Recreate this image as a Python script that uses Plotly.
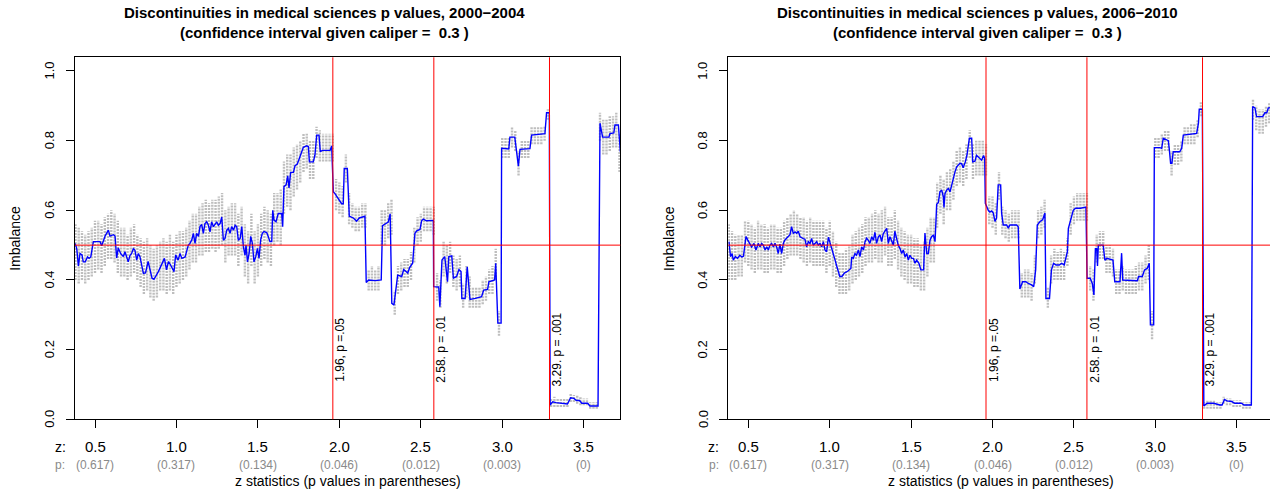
import numpy as np
import plotly.graph_objects as go

# ---------------------------------------------------------------- data
PERIODS = ["2000\u22122004", "2006\u22122010"]
CALIPER = 0.3

Z_TICKS = [0.5, 1.0, 1.5, 2.0, 2.5, 3.0, 3.5]
Z_TICK_TEXT = ["0.5", "1.0", "1.5", "2.0", "2.5", "3.0", "3.5"]
P_TICK_TEXT = ["(0.617)", "(0.317)", "(0.134)", "(0.046)", "(0.012)", "(0.003)", "(0)"]
Y_TICKS = [0.0, 0.2, 0.4, 0.6, 0.8, 1.0]
Y_TICK_TEXT = ["0.0", "0.2", "0.4", "0.6", "0.8", "1.0"]

THRESHOLDS = [1.96, 2.58, 3.29]
THRESHOLD_TEXT = ["1.96, p =.05", "2.58. p = .01", "3.29. p = .001"]
BALANCE = 0.5

# imbalance estimate (z, imbalance), 2000-2004
IMB_2000 = [
    (0.378, 0.505), (0.388, 0.49), (0.398, 0.44), (0.408, 0.476), (0.42, 0.472),
    (0.428, 0.452), (0.44, 0.452), (0.454, 0.466), (0.464, 0.462), (0.474, 0.466),
    (0.49, 0.51), (0.531, 0.51), (0.541, 0.498), (0.562, 0.526), (0.582, 0.543),
    (0.592, 0.526), (0.613, 0.53), (0.623, 0.526), (0.633, 0.463), (0.643, 0.492),
    (0.657, 0.476), (0.674, 0.467), (0.684, 0.481), (0.704, 0.452), (0.715, 0.471),
    (0.725, 0.476), (0.735, 0.49), (0.745, 0.486), (0.756, 0.457), (0.766, 0.476),
    (0.776, 0.467), (0.786, 0.443), (0.797, 0.419), (0.81, 0.42), (0.826, 0.453),
    (0.85, 0.405), (0.862, 0.402), (0.889, 0.424), (0.914, 0.448), (0.926, 0.462),
    (0.939, 0.429), (0.951, 0.453), (0.964, 0.443), (0.985, 0.424), (0.995, 0.472),
    (1.01, 0.457), (1.022, 0.476), (1.033, 0.462), (1.053, 0.466), (1.073, 0.50),
    (1.083, 0.505), (1.094, 0.515), (1.104, 0.534), (1.114, 0.505), (1.124, 0.534),
    (1.135, 0.525), (1.145, 0.554), (1.155, 0.559), (1.165, 0.534), (1.175, 0.562),
    (1.186, 0.567), (1.196, 0.557), (1.206, 0.538), (1.216, 0.567), (1.227, 0.553),
    (1.237, 0.562), (1.247, 0.567), (1.257, 0.557), (1.268, 0.562), (1.278, 0.581),
    (1.288, 0.514), (1.298, 0.519), (1.309, 0.543), (1.319, 0.548), (1.329, 0.534),
    (1.339, 0.553), (1.35, 0.543), (1.36, 0.557), (1.37, 0.553), (1.38, 0.514),
    (1.391, 0.519), (1.401, 0.553), (1.411, 0.495), (1.421, 0.471), (1.427, 0.50),
    (1.436, 0.452), (1.446, 0.476), (1.456, 0.525), (1.466, 0.505), (1.476, 0.452),
    (1.487, 0.467), (1.497, 0.491), (1.507, 0.462), (1.517, 0.515), (1.527, 0.534),
    (1.537, 0.539), (1.554, 0.536), (1.564, 0.524), (1.574, 0.51), (1.585, 0.51),
    (1.591, 0.60), (1.599, 0.572), (1.611, 0.567), (1.625, 0.591), (1.646, 0.591),
    (1.652, 0.553), (1.66, 0.668), (1.673, 0.673), (1.683, 0.699), (1.691, 0.664),
    (1.701, 0.709), (1.718, 0.709), (1.728, 0.728), (1.742, 0.733), (1.758, 0.753),
    (1.769, 0.763), (1.779, 0.781), (1.799, 0.785), (1.81, 0.783), (1.816, 0.739),
    (1.84, 0.739), (1.85, 0.758), (1.861, 0.816), (1.875, 0.816), (1.883, 0.768),
    (1.895, 0.772), (1.943, 0.772), (1.953, 0.785), (1.963, 0.653), (1.973, 0.648),
    (1.993, 0.634), (2.004, 0.625), (2.014, 0.619), (2.024, 0.619), (2.03, 0.72),
    (2.049, 0.72), (2.061, 0.583), (2.086, 0.578), (2.106, 0.569), (2.122, 0.578),
    (2.157, 0.583), (2.165, 0.393), (2.18, 0.40), (2.22, 0.398), (2.257, 0.40),
    (2.265, 0.556), (2.285, 0.562), (2.30, 0.566), (2.312, 0.59), (2.322, 0.333),
    (2.335, 0.328), (2.358, 0.414), (2.383, 0.41), (2.395, 0.43), (2.42, 0.42),
    (2.432, 0.436), (2.45, 0.448), (2.458, 0.486), (2.464, 0.534), (2.475, 0.541),
    (2.495, 0.545), (2.505, 0.57), (2.515, 0.575), (2.535, 0.57), (2.567, 0.57),
    (2.577, 0.571), (2.579, 0.381), (2.61, 0.38), (2.617, 0.323), (2.63, 0.457),
    (2.647, 0.467), (2.664, 0.395), (2.672, 0.467), (2.69, 0.469), (2.70, 0.405),
    (2.72, 0.41), (2.734, 0.43), (2.747, 0.424), (2.752, 0.347), (2.772, 0.347),
    (2.785, 0.438), (2.802, 0.344), (2.835, 0.347), (2.873, 0.352), (2.886, 0.371),
    (2.91, 0.373), (2.918, 0.395), (2.953, 0.40), (2.96, 0.448), (2.973, 0.276),
    (2.993, 0.276), (2.996, 0.778), (3.04, 0.776), (3.047, 0.81), (3.077, 0.81),
    (3.088, 0.775), (3.099, 0.727), (3.109, 0.775), (3.17, 0.777), (3.18, 0.816),
    (3.252, 0.82), (3.262, 0.82), (3.272, 0.88), (3.289, 0.88), (3.294, 0.041),
    (3.31, 0.05), (3.33, 0.048), (3.40, 0.044), (3.42, 0.062), (3.44, 0.06),
    (3.455, 0.054), (3.475, 0.054), (3.488, 0.046), (3.525, 0.046), (3.538, 0.038),
    (3.588, 0.038), (3.60, 0.85), (3.616, 0.81), (3.655, 0.81), (3.661, 0.82),
    (3.685, 0.822), (3.692, 0.845), (3.713, 0.845), (3.725, 0.768),
]

# imbalance estimate (z, imbalance), 2006-2010
IMB_2006 = [
    (0.381, 0.51), (0.391, 0.467), (0.40, 0.476), (0.408, 0.457), (0.42, 0.467),
    (0.434, 0.462), (0.448, 0.471), (0.46, 0.466), (0.47, 0.468), (0.486, 0.525),
    (0.496, 0.515), (0.506, 0.505), (0.52, 0.495), (0.535, 0.505), (0.547, 0.486),
    (0.561, 0.505), (0.572, 0.495), (0.582, 0.505), (0.592, 0.50), (0.603, 0.486),
    (0.613, 0.495), (0.623, 0.486), (0.633, 0.50), (0.643, 0.505), (0.654, 0.495),
    (0.664, 0.505), (0.674, 0.495), (0.684, 0.476), (0.694, 0.503), (0.705, 0.476),
    (0.715, 0.505), (0.725, 0.515), (0.735, 0.52), (0.746, 0.525), (0.756, 0.53),
    (0.766, 0.553), (0.776, 0.534), (0.787, 0.538), (0.797, 0.534), (0.807, 0.54),
    (0.818, 0.524), (0.838, 0.519), (0.848, 0.517), (0.858, 0.495), (0.869, 0.51),
    (0.879, 0.505), (0.889, 0.519), (0.899, 0.50), (0.91, 0.505), (0.92, 0.51),
    (0.93, 0.50), (0.94, 0.505), (0.951, 0.495), (0.961, 0.51), (0.971, 0.486),
    (0.981, 0.481), (0.992, 0.523), (1.002, 0.505), (1.012, 0.49), (1.022, 0.476),
    (1.033, 0.457), (1.043, 0.44), (1.05, 0.429), (1.062, 0.41), (1.075, 0.41),
    (1.09, 0.42), (1.11, 0.425), (1.13, 0.433), (1.135, 0.466), (1.145, 0.462),
    (1.155, 0.476), (1.165, 0.471), (1.176, 0.486), (1.186, 0.467), (1.196, 0.495),
    (1.207, 0.486), (1.217, 0.51), (1.227, 0.52), (1.237, 0.514), (1.247, 0.505),
    (1.258, 0.524), (1.268, 0.514), (1.278, 0.537), (1.288, 0.505), (1.299, 0.524),
    (1.309, 0.529), (1.319, 0.51), (1.329, 0.533), (1.35, 0.548), (1.36, 0.505),
    (1.37, 0.524), (1.38, 0.51), (1.391, 0.50), (1.40, 0.54), (1.411, 0.514),
    (1.421, 0.50), (1.432, 0.49), (1.442, 0.476), (1.452, 0.486), (1.463, 0.466),
    (1.473, 0.476), (1.483, 0.457), (1.493, 0.471), (1.504, 0.462), (1.514, 0.462),
    (1.524, 0.448), (1.534, 0.457), (1.548, 0.448), (1.56, 0.429), (1.577, 0.429),
    (1.585, 0.535), (1.596, 0.476), (1.606, 0.476), (1.616, 0.514), (1.626, 0.524),
    (1.637, 0.529), (1.647, 0.51), (1.657, 0.617), (1.667, 0.622), (1.677, 0.653),
    (1.688, 0.658), (1.698, 0.639), (1.702, 0.608), (1.708, 0.648), (1.718, 0.658),
    (1.729, 0.663), (1.739, 0.653), (1.749, 0.673), (1.759, 0.687), (1.77, 0.711),
    (1.78, 0.725), (1.79, 0.73), (1.80, 0.735), (1.81, 0.734), (1.82, 0.722),
    (1.833, 0.739), (1.843, 0.758), (1.858, 0.807), (1.872, 0.807), (1.878, 0.739),
    (1.892, 0.741), (1.902, 0.758), (1.912, 0.753), (1.923, 0.748), (1.933, 0.744),
    (1.945, 0.757), (1.952, 0.75), (1.956, 0.62), (1.964, 0.61), (1.974, 0.60),
    (1.984, 0.595), (1.995, 0.598), (2.005, 0.592), (2.015, 0.568), (2.025, 0.578),
    (2.035, 0.673), (2.05, 0.673), (2.056, 0.592), (2.066, 0.558), (2.087, 0.558),
    (2.097, 0.549), (2.107, 0.558), (2.148, 0.558), (2.158, 0.553), (2.168, 0.374),
    (2.185, 0.395), (2.205, 0.395), (2.22, 0.39), (2.24, 0.386), (2.253, 0.381),
    (2.265, 0.429), (2.275, 0.558), (2.292, 0.568), (2.308, 0.573), (2.322, 0.592),
    (2.328, 0.347), (2.35, 0.347), (2.362, 0.429), (2.375, 0.448), (2.39, 0.443),
    (2.41, 0.443), (2.425, 0.448), (2.44, 0.443), (2.46, 0.481), (2.466, 0.548),
    (2.476, 0.568), (2.486, 0.585), (2.496, 0.60), (2.51, 0.606), (2.54, 0.606),
    (2.574, 0.609), (2.581, 0.405), (2.60, 0.405), (2.613, 0.39), (2.623, 0.357),
    (2.632, 0.49), (2.64, 0.49), (2.645, 0.44), (2.65, 0.50), (2.68, 0.50),
    (2.69, 0.457), (2.703, 0.462), (2.74, 0.457), (2.751, 0.395), (2.783, 0.395),
    (2.793, 0.477), (2.80, 0.40), (2.84, 0.40), (2.861, 0.398), (2.89, 0.398),
    (2.897, 0.41), (2.92, 0.41), (2.934, 0.429), (2.95, 0.433), (2.963, 0.448),
    (2.97, 0.271), (2.99, 0.271), (2.994, 0.78), (3.028, 0.78), (3.039, 0.778),
    (3.049, 0.807), (3.08, 0.80), (3.086, 0.775), (3.094, 0.735), (3.102, 0.735),
    (3.11, 0.768), (3.15, 0.768), (3.162, 0.778), (3.172, 0.816), (3.20, 0.818),
    (3.254, 0.821), (3.265, 0.85), (3.27, 0.89), (3.289, 0.89), (3.298, 0.038),
    (3.318, 0.046), (3.36, 0.046), (3.396, 0.041), (3.41, 0.041), (3.425, 0.057),
    (3.44, 0.053), (3.47, 0.051), (3.488, 0.046), (3.53, 0.046), (3.545, 0.041),
    (3.59, 0.041), (3.598, 0.898), (3.612, 0.894), (3.622, 0.869), (3.66, 0.869),
    (3.673, 0.88), (3.685, 0.88), (3.694, 0.894), (3.704, 0.894), (3.72, 0.90),
]

# confidence interval columns, one per z from 0.38 to 3.72 in steps of 0.02
CI_Z = np.round(np.arange(0.38, 3.7201, 0.02), 2)

CI_LO_2000 = [
    0.40, 0.39, 0.40, 0.39, 0.40, 0.41, 0.42, 0.43, 0.42, 0.44,
    0.46, 0.46, 0.45, 0.42, 0.41, 0.41, 0.40, 0.41, 0.42, 0.40,
    0.38, 0.36, 0.37, 0.35, 0.34, 0.35, 0.37, 0.37, 0.36, 0.37,
    0.36, 0.38, 0.39, 0.40, 0.41, 0.43, 0.45, 0.45, 0.47, 0.47,
    0.48, 0.48, 0.49, 0.48, 0.49, 0.50, 0.45, 0.47, 0.47, 0.47,
    0.44, 0.47, 0.41, 0.39, 0.44, 0.39, 0.41, 0.44, 0.46, 0.45,
    0.44, 0.50, 0.51, 0.50, 0.59, 0.61, 0.60, 0.64, 0.66, 0.68,
    0.71, 0.72, 0.69, 0.69, 0.75, 0.74, 0.74, 0.74, 0.74, 0.74,
    0.60, 0.59, 0.58, 0.68, 0.56, 0.55, 0.54, 0.54, 0.55, 0.55,
    0.37, 0.37, 0.37, 0.37, 0.50, 0.50, 0.52, 0.53, 0.30, 0.36,
    0.37, 0.38, 0.38, 0.40, 0.45, 0.50, 0.51, 0.54, 0.54, 0.54,
    0.53, 0.34, 0.32, 0.41, 0.39, 0.42, 0.38, 0.37, 0.38, 0.32,
    0.35, 0.32, 0.32, 0.32, 0.32, 0.33, 0.34, 0.36, 0.36, 0.40,
    0.24, 0.75, 0.75, 0.75, 0.78, 0.77, 0.70, 0.75, 0.75, 0.75,
    0.79, 0.79, 0.79, 0.79, 0.80, 0.86, 0.035, 0.035, 0.035, 0.035,
    0.035, 0.035, 0.05, 0.05, 0.045, 0.04, 0.04, 0.04, 0.03, 0.03,
    0.03, 0.80, 0.76, 0.76, 0.77, 0.78, 0.78, 0.71,
]
CI_HI_2000 = [
    0.56, 0.55, 0.54, 0.53, 0.54, 0.55, 0.57, 0.57, 0.56, 0.58,
    0.59, 0.60, 0.59, 0.57, 0.55, 0.55, 0.53, 0.55, 0.56, 0.53,
    0.52, 0.51, 0.52, 0.50, 0.49, 0.50, 0.51, 0.52, 0.51, 0.53,
    0.51, 0.53, 0.54, 0.54, 0.55, 0.57, 0.59, 0.59, 0.61, 0.62,
    0.63, 0.62, 0.63, 0.63, 0.64, 0.65, 0.60, 0.61, 0.62, 0.62,
    0.59, 0.61, 0.56, 0.54, 0.59, 0.54, 0.56, 0.59, 0.61, 0.60,
    0.59, 0.65, 0.65, 0.66, 0.74, 0.76, 0.76, 0.78, 0.79, 0.80,
    0.82, 0.82, 0.80, 0.80, 0.84, 0.83, 0.82, 0.82, 0.82, 0.82,
    0.69, 0.68, 0.67, 0.76, 0.65, 0.62, 0.61, 0.61, 0.62, 0.62,
    0.43, 0.44, 0.43, 0.44, 0.60, 0.60, 0.62, 0.63, 0.37, 0.44,
    0.45, 0.46, 0.46, 0.48, 0.55, 0.58, 0.59, 0.61, 0.61, 0.61,
    0.61, 0.42, 0.40, 0.51, 0.50, 0.51, 0.47, 0.46, 0.47, 0.39,
    0.44, 0.41, 0.38, 0.38, 0.38, 0.40, 0.41, 0.43, 0.44, 0.49,
    0.31, 0.81, 0.81, 0.81, 0.84, 0.83, 0.77, 0.80, 0.80, 0.80,
    0.84, 0.84, 0.84, 0.84, 0.84, 0.89, 0.06, 0.065, 0.06, 0.06,
    0.06, 0.06, 0.075, 0.07, 0.07, 0.065, 0.06, 0.06, 0.05, 0.05,
    0.05, 0.88, 0.86, 0.86, 0.87, 0.87, 0.88, 0.82,
]
CI_LO_2006 = [
    0.40, 0.40, 0.40, 0.41, 0.41, 0.45, 0.44, 0.43, 0.42, 0.43,
    0.43, 0.42, 0.42, 0.43, 0.43, 0.42, 0.42, 0.44, 0.46, 0.47,
    0.47, 0.47, 0.46, 0.45, 0.44, 0.45, 0.44, 0.44, 0.44, 0.44,
    0.42, 0.44, 0.41, 0.38, 0.36, 0.36, 0.36, 0.37, 0.39, 0.40,
    0.41, 0.42, 0.44, 0.45, 0.45, 0.46, 0.45, 0.45, 0.47, 0.44,
    0.44, 0.46, 0.43, 0.41, 0.40, 0.39, 0.39, 0.38, 0.38, 0.37,
    0.37, 0.41, 0.45, 0.45, 0.55, 0.59, 0.56, 0.60, 0.60, 0.63,
    0.67, 0.68, 0.67, 0.69, 0.75, 0.69, 0.70, 0.70, 0.70, 0.70,
    0.56, 0.55, 0.53, 0.63, 0.53, 0.52, 0.51, 0.52, 0.52, 0.52,
    0.35, 0.35, 0.35, 0.34, 0.39, 0.52, 0.53, 0.55, 0.32, 0.39,
    0.40, 0.40, 0.40, 0.40, 0.44, 0.53, 0.56, 0.57, 0.57, 0.57,
    0.57, 0.37, 0.34, 0.45, 0.46, 0.46, 0.42, 0.42, 0.41, 0.36,
    0.36, 0.37, 0.36, 0.36, 0.36, 0.36, 0.37, 0.37, 0.39, 0.40,
    0.23, 0.75, 0.75, 0.76, 0.77, 0.77, 0.70, 0.73, 0.73, 0.74,
    0.79, 0.79, 0.79, 0.79, 0.81, 0.87, 0.03, 0.03, 0.03, 0.03,
    0.03, 0.03, 0.045, 0.04, 0.04, 0.035, 0.035, 0.035, 0.03, 0.03,
    0.03, 0.86, 0.83, 0.82, 0.82, 0.84, 0.85, 0.86,
]
CI_HI_2006 = [
    0.56, 0.54, 0.53, 0.53, 0.53, 0.57, 0.57, 0.56, 0.55, 0.57,
    0.56, 0.56, 0.55, 0.56, 0.56, 0.55, 0.55, 0.57, 0.58, 0.59,
    0.60, 0.59, 0.58, 0.58, 0.57, 0.58, 0.57, 0.57, 0.57, 0.57,
    0.55, 0.57, 0.54, 0.51, 0.48, 0.48, 0.49, 0.50, 0.53, 0.54,
    0.55, 0.56, 0.58, 0.58, 0.59, 0.60, 0.59, 0.60, 0.61, 0.58,
    0.58, 0.60, 0.57, 0.55, 0.54, 0.53, 0.53, 0.52, 0.52, 0.50,
    0.51, 0.55, 0.58, 0.58, 0.68, 0.70, 0.69, 0.71, 0.72, 0.74,
    0.77, 0.78, 0.77, 0.79, 0.83, 0.79, 0.80, 0.80, 0.80, 0.79,
    0.64, 0.64, 0.62, 0.71, 0.61, 0.60, 0.59, 0.60, 0.60, 0.60,
    0.42, 0.43, 0.43, 0.42, 0.47, 0.60, 0.61, 0.63, 0.38, 0.47,
    0.49, 0.48, 0.49, 0.48, 0.52, 0.62, 0.64, 0.65, 0.65, 0.65,
    0.65, 0.44, 0.43, 0.53, 0.54, 0.54, 0.50, 0.50, 0.49, 0.43,
    0.43, 0.44, 0.43, 0.43, 0.43, 0.44, 0.45, 0.45, 0.47, 0.50,
    0.31, 0.81, 0.81, 0.82, 0.83, 0.83, 0.77, 0.79, 0.79, 0.80,
    0.84, 0.84, 0.85, 0.85, 0.86, 0.91, 0.05, 0.055, 0.055, 0.055,
    0.05, 0.05, 0.065, 0.06, 0.06, 0.055, 0.055, 0.055, 0.05, 0.05,
    0.05, 0.92, 0.90, 0.89, 0.89, 0.90, 0.91, 0.92,
]

# ---------------------------------------------------------------- layout
W, H = 1270, 493
BOX_TOP, BOX_BOTTOM = 57.3, 419.3
FONT = "Liberation Sans, Arial, Helvetica, sans-serif"
GREY_TEXT = "#8a8a8a"

PANELS = [
    dict(period=PERIODS[0], imb=IMB_2000, lo=CI_LO_2000, hi=CI_HI_2000,
         left=75.0, right=620.3, xrange=[0.3772, 3.7247], xa="x", ya="y"),
    dict(period=PERIODS[1], imb=IMB_2006, lo=CI_LO_2006, hi=CI_HI_2006,
         left=728.3, right=1270.0, xrange=[0.3771, 3.7045], xa="x2", ya="y2"),
]
Y_RANGE = [0.0, 1.0393]
TITLE_Z = 1.909      # horizontal centre of the two-line title, in z units
XLABEL_Z = 2.051     # centre of the full plotting box, in z units

fig = go.Figure()
annotations = []
shapes = []


def ann(text, size=13, color="black", **kw):
    d = dict(text=text, showarrow=False, font=dict(family=FONT, size=size, color=color))
    d.update(kw)
    annotations.append(d)


for i, p in enumerate(PANELS):
    xa, ya = p["xa"], p["ya"]
    assert len(p["lo"]) == len(CI_Z) and len(p["hi"]) == len(CI_Z)

    # confidence-interval columns as dotted vertical runs
    cx, cy = [], []
    for z, lo, hi in zip(CI_Z, p["lo"], p["hi"]):
        cx += [z, z, None]
        cy += [lo, hi, None]
    fig.add_trace(go.Scatter(
        x=cx, y=cy, mode="lines", xaxis=xa, yaxis=ya, hoverinfo="skip",
        line=dict(color="#BEBEBE", width=2.4, dash="2px,1px"),
    ))

    # imbalance line
    zs, vs = zip(*p["imb"])
    fig.add_trace(go.Scatter(
        x=list(zs), y=list(vs), mode="lines", xaxis=xa, yaxis=ya,
        line=dict(color="#0000FF", width=1.4),
    ))

    # reference lines
    for t in THRESHOLDS:
        shapes.append(dict(type="line", xref=xa, yref=ya + " domain", x0=t, x1=t, y0=0, y1=1,
                           line=dict(color="#FF0000", width=1), layer="above"))
    shapes.append(dict(type="line", xref=xa + " domain", yref=ya, x0=0, x1=1,
                       y0=BALANCE, y1=BALANCE, line=dict(color="#FF0000", width=1), layer="above"))

    for t, txt in zip(THRESHOLDS, THRESHOLD_TEXT):
        ann(txt, size=12, xref=xa, yref=ya, x=t, y=0.2, xshift=7.3, textangle=-90,
            xanchor="center", yanchor="middle")

    # axes
    dom_x = [p["left"] / W, p["right"] / W]
    dom_y = [1 - BOX_BOTTOM / H, 1 - BOX_TOP / H]
    sfx = "" if i == 0 else "2"
    fig.update_layout(**{
        "xaxis" + sfx: dict(domain=dom_x, range=p["xrange"], anchor=ya,
                            showline=True, mirror=True, linecolor="black", linewidth=1,
                            ticks="outside", tickvals=Z_TICKS, ticklen=8, tickcolor="black",
                            showticklabels=False, showgrid=False, zeroline=False),
        "yaxis" + sfx: dict(domain=dom_y, range=Y_RANGE, anchor=xa,
                            showline=True, mirror=(i == 0), linecolor="black", linewidth=1,
                            ticks="outside", tickvals=Y_TICKS, ticklen=8, tickcolor="black",
                            showticklabels=False, showgrid=False, zeroline=False),
    })

    # y tick labels (rotated, parallel to the axis)
    for v, txt in zip(Y_TICKS, Y_TICK_TEXT):
        ann(txt, size=13, xref=xa + " domain", x=0, xshift=-25.5, yref=ya, y=v,
            textangle=-90, xanchor="center", yanchor="middle")
    ann("Imbalance", size=14, xref=xa + " domain", x=0, xshift=-59.5,
        yref=ya + " domain", y=0.5, textangle=-90, xanchor="center", yanchor="middle")

    # two-row x tick labels: z statistic and p value
    ann("z:", size=14, xref=xa + " domain", x=0, xshift=-14.7, yref=ya + " domain", y=0,
        yshift=-27.4, xanchor="center", yanchor="middle")
    ann("p:", size=12, color=GREY_TEXT, xref=xa + " domain", x=0, xshift=-14.7,
        yref=ya + " domain", y=0, yshift=-45.7, xanchor="center", yanchor="middle")
    for z, zt, pt in zip(Z_TICKS, Z_TICK_TEXT, P_TICK_TEXT):
        ann(zt, size=15, xref=xa, x=z, yref=ya + " domain", y=0, yshift=-27.4,
            xanchor="center", yanchor="middle")
        ann(pt, size=12, color=GREY_TEXT, xref=xa, x=z, yref=ya + " domain", y=0,
            yshift=-45.7, xanchor="center", yanchor="middle")
    ann("z statistics (p values in parentheses)", size=14, xref=xa, x=XLABEL_Z,
        yref=ya + " domain", y=0, yshift=-61.7, xanchor="center", yanchor="middle")

    # title
    ann("<b>Discontinuities in medical sciences p values, %s</b>" % p["period"], size=15,
        xref=xa, x=TITLE_Z, yref="paper", y=1 - 12.5 / H, xanchor="center", yanchor="middle")
    ann("<b>(confidence interval given caliper =\u00a0 %s )</b>" % CALIPER, size=15,
        xref=xa, x=TITLE_Z, yref="paper", y=1 - 32.5 / H, xanchor="center", yanchor="middle")

fig.update_layout(
    width=W, height=H, margin=dict(l=0, r=0, t=0, b=0),
    paper_bgcolor="white", plot_bgcolor="white", showlegend=False,
    annotations=annotations, shapes=shapes,
)

fig.write_html("out.html")
